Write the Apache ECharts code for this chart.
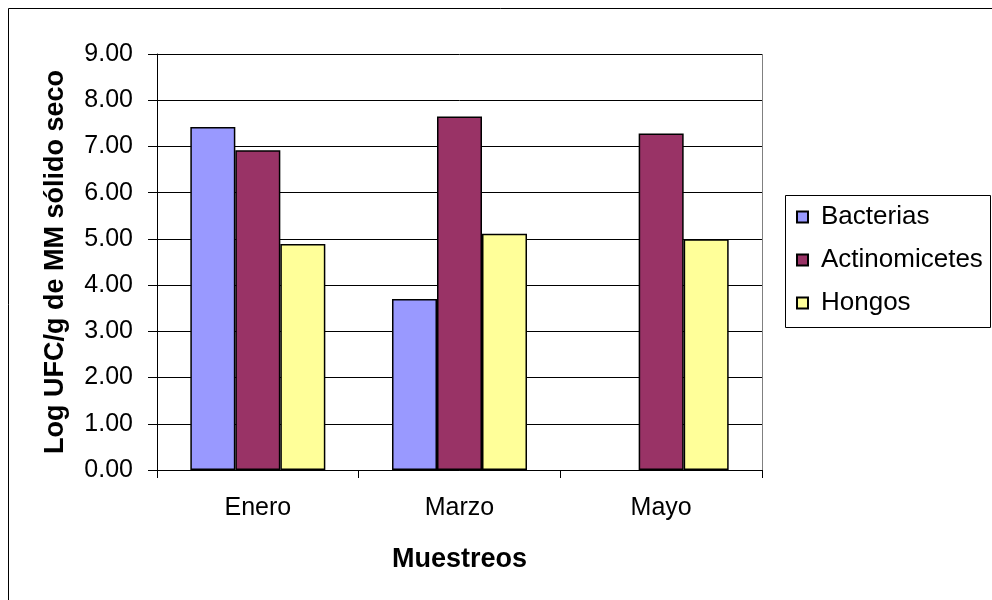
<!DOCTYPE html>
<html>
<head>
<meta charset="utf-8">
<script src="https://cdn.jsdelivr.net/npm/echarts@6/dist/echarts.min.js"></script>
<style>
  html, body { margin: 0; padding: 0; background: #fff; }
  #chart { width: 992px; height: 600px; }
</style>
</head>
<body>
<div id="chart"></div>
<script>
// Sampling months
const categories = ['Enero', 'Marzo', 'Mayo'];
// Log CFU per gram of dry solid, by microbial group
const bacterias = [7.42, 3.70, null];
const actinomicetes = [6.92, 7.65, 7.28];
const hongos = [4.89, 5.11, 4.99];

const FONT = '"Liberation Sans", Arial, sans-serif';

const chart = echarts.init(document.getElementById('chart'), null, { renderer: 'canvas' });

const barStyle = color => ({ color: color, borderColor: '#000', borderWidth: 1.5 });

chart.setOption({
  backgroundColor: '#fff',
  animation: false,
  textStyle: { fontFamily: FONT },
  grid: { left: 157, top: 54, width: 605, height: 416 },
  legend: {
    orient: 'vertical',
    left: 785,
    top: 195,
    padding: [8, 2, 8, 11],
    borderWidth: 0,
    icon: 'rect',
    itemWidth: 11,
    itemHeight: 11,
    itemGap: 15,
    textStyle: { fontSize: 26, color: '#000', fontFamily: FONT, lineHeight: 28, padding: [0, 0, 0, 8] },
    data: ['Bacterias', 'Actinomicetes', 'Hongos']
  },
  xAxis: {
    type: 'category',
    data: categories,
    name: 'Muestreos',
    nameLocation: 'middle',
    nameGap: 76,
    nameTextStyle: { fontSize: 27, fontWeight: 'bold', color: '#000', fontFamily: FONT },
    axisLine: { lineStyle: { color: '#000', width: 1 } },
    axisTick: { show: true, length: 8, lineStyle: { color: '#000' } },
    axisLabel: { fontSize: 25, color: '#000', margin: 26, fontFamily: FONT }
  },
  yAxis: {
    type: 'value',
    min: 0,
    max: 9,
    interval: 1,
    name: 'Log UFC/g de MM sólido seco',
    nameLocation: 'middle',
    nameGap: 88,
    nameTextStyle: { fontSize: 27, fontWeight: 'bold', color: '#000', fontFamily: FONT },
    axisLine: { show: true, lineStyle: { color: '#000', width: 1 } },
    axisTick: { show: true, length: 9, lineStyle: { color: '#000' } },
    axisLabel: { fontSize: 25, color: '#000', margin: 24, fontFamily: FONT,
                 formatter: v => v.toFixed(2) },
    splitLine: { show: true, lineStyle: { color: '#000', width: 1 } }
  },
  series: [
    { name: 'Bacterias', type: 'bar', data: bacterias, barWidth: 45, barGap: '0%',
      itemStyle: barStyle('#9999FF') },
    { name: 'Actinomicetes', type: 'bar', data: actinomicetes, barWidth: 45, barGap: '0%',
      itemStyle: barStyle('#993366') },
    { name: 'Hongos', type: 'bar', data: hongos, barWidth: 45, barGap: '0%',
      itemStyle: barStyle('#FFFF99') }
  ],
  graphic: [
    // outer chart frame
    { type: 'rect', shape: { x: 8.5, y: 8.5, width: 1000, height: 620 },
      style: { fill: null, stroke: '#000', lineWidth: 1 }, silent: true },
    // right edge of the plot area
    { type: 'line', shape: { x1: 762.5, y1: 54, x2: 762.5, y2: 470 },
      style: { stroke: '#808080', lineWidth: 1 }, silent: true },
    // legend frame
    { type: 'rect', shape: { x: 785.5, y: 195.5, width: 205, height: 132 },
      style: { fill: null, stroke: '#000', lineWidth: 1 }, silent: true }
  ]
});
</script>
</body>
</html>
